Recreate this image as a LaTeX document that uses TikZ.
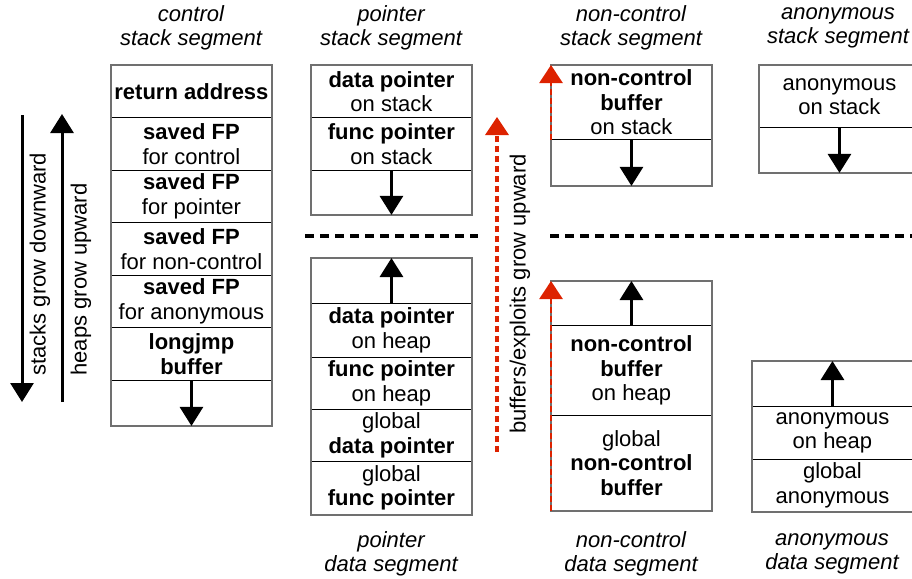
\documentclass[tikz,border=0pt]{standalone}
\usepackage{fontspec}
\setmainfont{Liberation Sans}
\usetikzlibrary{arrows.meta}

\definecolor{framegray}{RGB}{112,112,112}
\definecolor{exploitred}{RGB}{221,34,0}
\newcommand{\diagfont}{\fontsize{22}{24.5}\selectfont}

\tikzset{
  cell/.style={draw=black, line width=0.9pt, minimum width=160pt, inner sep=0pt,
    align=center, anchor=north west},
  frame/.style={draw=framegray, line width=1.3pt},
  growarrow/.style={line width=3pt, -{Triangle[width=23pt,length=19pt]}},
  exploit/.style={exploitred, line width=3.3pt, dash pattern=on 6pt off 4pt,
    -{Triangle[width=23pt,length=18pt]}},
  edgeexploit/.style={exploit, line width=2.6pt, dash pattern=on 6pt off 3pt},
  boundary/.style={line width=3.2pt, dash pattern=on 9pt off 6pt},
  seglabel/.style={font=\diagfont\itshape, align=center},
}

\begin{document}
\begin{tikzpicture}[x=1pt,y=-1pt,font=\diagfont]
  \useasboundingbox (0,0) rectangle (912,578);

  % growth directions on the far left
  \coordinate (stktop) at (22,115);
  \coordinate (stkbot) at (22,402);
  \coordinate (heaptop) at (62,114);
  \coordinate (heapbot) at (62,402);
  \draw[growarrow] (stktop) -- (stkbot);
  \draw[growarrow] (heapbot) -- (heaptop);
  \node[rotate=90, anchor=west] (stklbl) at (40,379) {stacks grow downward};
  \node[rotate=90, anchor=west] (heaplbl) at (81,379) {heaps grow upward};

  % control stack
  \node[seglabel] (ctlhead) at (191,28) {control\\stack segment};
  \node[cell, minimum height=52pt] (ret) at (111,65) {\textbf{return address}};
  \node[cell, minimum height=53pt] (fpc) at (111,117) {\textbf{saved FP}\\for control};
  \node[cell, minimum height=52pt] (fpp) at (111,170) {\textbf{saved FP}\\for pointer};
  \node[cell, minimum height=53pt] (fpn) at (111,222) {\textbf{saved FP}\\for non-control};
  \node[cell, minimum height=52pt] (fpa) at (111,275) {\textbf{saved FP}\\for anonymous};
  \node[cell, minimum height=53pt] (ljb) at (111,327) {\textbf{longjmp}\\\textbf{buffer}};
  \node[cell, minimum height=45pt] (ctlgap) at (111,380) {};
  \draw[frame] (ret.north west) rectangle (ctlgap.south east);
  \draw[growarrow] (ctlgap.north) -- (ctlgap.south);

  % pointer stack
  \node[seglabel] (ptrhead) at (391,28) {pointer\\stack segment};
  \node[cell, minimum height=52pt] (dps) at (311,65) {\textbf{data pointer}\\on stack};
  \node[cell, minimum height=53pt] (fps) at (311,117) {\textbf{func pointer}\\on stack};
  \node[cell, minimum height=44pt] (ptrgap) at (311,170) {};
  \draw[frame] (dps.north west) rectangle (ptrgap.south east);
  \draw[growarrow] (ptrgap.north) -- (ptrgap.south);

  % stack / data boundary
  \draw[boundary] (305,236) -- (478,236);
  \draw[boundary] (550,236) -- (912,236);

  % pointer data
  \node[cell, minimum height=45pt] (ptrtop) at (311,258) {};
  \node[cell, minimum height=54pt] (dph) at (311,303) {\textbf{data pointer}\\on heap};
  \node[cell, minimum height=52pt] (fph) at (311,357) {\textbf{func pointer}\\on heap};
  \node[cell, minimum height=52pt] (gdp) at (311,409) {global\\\textbf{data pointer}};
  \node[cell, minimum height=53pt] (gfp) at (311,461) {global\\\textbf{func pointer}};
  \draw[frame] (ptrtop.north west) rectangle (gfp.south east);
  \draw[growarrow] (ptrtop.south) -- (ptrtop.north);
  \node[seglabel] (ptrfoot) at (391,554) {pointer\\data segment};

  % buffers overflow toward higher addresses
  \coordinate (bufbot) at (497,452);
  \coordinate (buftop) at (497,117);
  \draw[exploit] (bufbot) -- (buftop);
  \node[rotate=90] (buflbl) at (520,294) {buffers/exploits grow upward};

  % non-control stack
  \node[seglabel] (nchead) at (631,28) {non-control\\stack segment};
  \node[cell, minimum height=74pt] (ncs) at (551,65) {\textbf{non-control}\\\textbf{buffer}\\on stack};
  \node[cell, minimum height=46pt] (ncgap) at (551,139) {};
  \draw[frame] (ncs.north west) rectangle (ncgap.south east);
  \draw[growarrow] (ncgap.north) -- (ncgap.south);
  \draw[edgeexploit] (ncs.south west) -- (ncs.north west);

  % non-control data
  \node[cell, minimum height=44pt] (nctop) at (551,281) {};
  \node[cell, minimum height=90pt] (nch) at (551,325) {\textbf{non-control}\\\textbf{buffer}\\on heap};
  \node[cell, minimum height=95pt] (ncg) at (551,415) {global\\\textbf{non-control}\\\textbf{buffer}};
  \draw[frame] (nctop.north west) rectangle (ncg.south east);
  \draw[growarrow] (nctop.south) -- (nctop.north);
  \draw[edgeexploit] (ncg.south west) -- (nctop.north west);
  \node[seglabel] (ncfoot) at (631,554) {non-control\\data segment};

  % anonymous stack
  \node[seglabel] (anhead) at (838,28) {anonymous\\stack segment};
  \node[cell, minimum height=62pt] (ans) at (759,65) {anonymous\\on stack};
  \node[cell, minimum height=45pt] (angap) at (759,127) {};
  \draw[frame] (ans.north west) rectangle (angap.south east);
  \draw[growarrow] (angap.north) -- (angap.south);

  % anonymous data
  \node[cell, minimum height=45pt] (antop) at (752,361) {};
  \node[cell, minimum height=53pt] (anh) at (752,406) {anonymous\\on heap};
  \node[cell, minimum height=52pt] (ang) at (752,459) {global\\anonymous};
  \draw[frame] (antop.north west) rectangle (ang.south east);
  \draw[growarrow] (antop.south) -- (antop.north);
  \node[seglabel] (anfoot) at (832,554) {anonymous\\data segment};
\end{tikzpicture}
\end{document}
